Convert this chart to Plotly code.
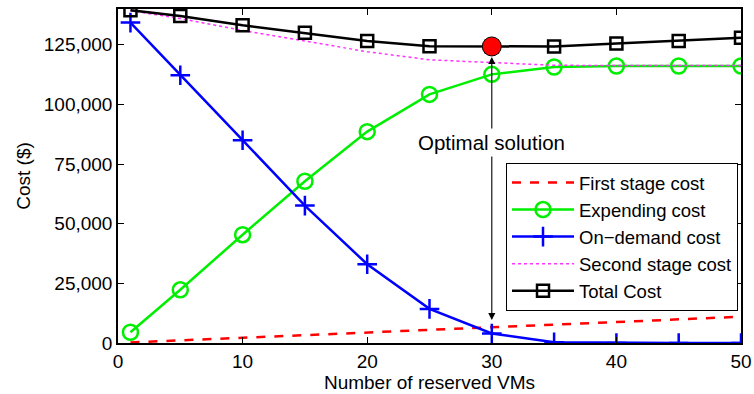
import plotly.graph_objects as go

vms = [1, 5, 10, 15, 20, 25, 30, 35, 40, 45, 50]
first_stage = [220, 1100, 2200, 3300, 4400, 5500, 6500, 7700, 8800, 9900, 11000]
expending = [4500, 22300, 45400, 67800, 88600, 104200, 112600, 115700, 116100, 116100, 116100]
on_demand = [134300, 112200, 85000, 57600, 33000, 14300, 4000, 300, 0, 0, 0]
second_stage = [139300, 136000, 131000, 126600, 122100, 118700, 117500, 116400, 116300, 116300, 116300]
total_cost = [139500, 137100, 133200, 130000, 126600, 124400, 124300, 124300, 125500, 126600, 127900]
optimal_x = [30]
optimal_y = [124300]
x_ticks = [0, 10, 20, 30, 40, 50]
y_ticks = [0, 25000, 50000, 75000, 100000, 125000]

FONT = "Liberation Sans, Arial, sans-serif"
FS = 19
FS_ANN = 20.5
FS_LEG = 18.5

fig = go.Figure()
fig.add_trace(go.Scatter(x=vms, y=first_stage, mode="lines", name="First stage cost",
                         line=dict(color="#ff0000", width=2.5, dash="dash")))
fig.add_trace(go.Scatter(x=vms, y=expending, mode="lines+markers", name="Expending cost",
                         line=dict(color="#00ee00", width=2.5),
                         marker=dict(symbol="circle-open", size=15, color="#00ee00",
                                     line=dict(width=2.5, color="#00ee00"))))
fig.add_trace(go.Scatter(x=vms, y=on_demand, mode="lines+markers", name="On\u2212demand cost",
                         line=dict(color="#0000ff", width=2.5),
                         marker=dict(symbol="cross-thin", size=14, color="#0000ff",
                                     line=dict(width=2.5, color="#0000ff"))))
fig.add_trace(go.Scatter(x=vms, y=second_stage, mode="lines", name="Second stage cost",
                         line=dict(color="#ff33ff", width=1.5, dash="dot")))
fig.add_trace(go.Scatter(x=vms, y=total_cost, mode="lines+markers", name="Total Cost",
                         line=dict(color="#000000", width=2.5),
                         marker=dict(symbol="square-open", size=12, color="#000000",
                                     line=dict(width=2.5, color="#000000"))))
fig.add_trace(go.Scatter(x=optimal_x, y=optimal_y, mode="markers", showlegend=False,
                         marker=dict(symbol="circle", size=19, color="#ff0000",
                                     line=dict(width=1, color="#000000"))))

fig.add_annotation(x=30, y=84000, text="Optimal solution", showarrow=False,
                   font=dict(family=FONT, size=FS_ANN, color="#000000"), bgcolor="rgba(0,0,0,0)")
fig.add_annotation(x=30, y=119900, ax=30, ay=89300, axref="x", ayref="y", text="",
                   showarrow=True, arrowhead=2, arrowsize=1.3, arrowwidth=1.1, arrowcolor="#000000")
fig.add_annotation(x=30, y=9600, ax=30, ay=78800, axref="x", ayref="y", text="",
                   showarrow=True, arrowhead=2, arrowsize=1.3, arrowwidth=1.1, arrowcolor="#000000")

axis_common = dict(showline=True, linecolor="#000000", linewidth=1.5, mirror="ticks",
                   ticks="inside", ticklen=6, tickcolor="#000000", showgrid=False, zeroline=False,
                   automargin=False,
                   tickfont=dict(family=FONT, size=FS, color="#000000"))

fig.update_layout(
    width=754, height=394,
    margin=dict(l=118, r=13, t=9, b=51),
    paper_bgcolor="white", plot_bgcolor="white",
    font=dict(family=FONT, size=FS, color="#000000"),
    xaxis=dict(range=[0, 50], tickvals=x_ticks,
               title=dict(text="Number of reserved VMs", standoff=2,
                          font=dict(family=FONT, size=FS, color="#000000")), **axis_common),
    yaxis=dict(range=[0, 140000], tickvals=y_ticks, tickformat=",d",
               title=dict(text="Cost ($)", standoff=8,
                          font=dict(family=FONT, size=FS, color="#000000")), **axis_common),
    legend=dict(x=0.9952, xanchor="right", y=0.539, yanchor="top",
                bgcolor="white", bordercolor="#000000", borderwidth=1,
                font=dict(family=FONT, size=FS_LEG, color="#000000"),
                tracegroupgap=0, itemwidth=62),
    showlegend=True,
)

fig.write_html("out.html", config={"displayModeBar": False},
               post_script="document.body.style.margin='0';document.body.style.padding='0';")
